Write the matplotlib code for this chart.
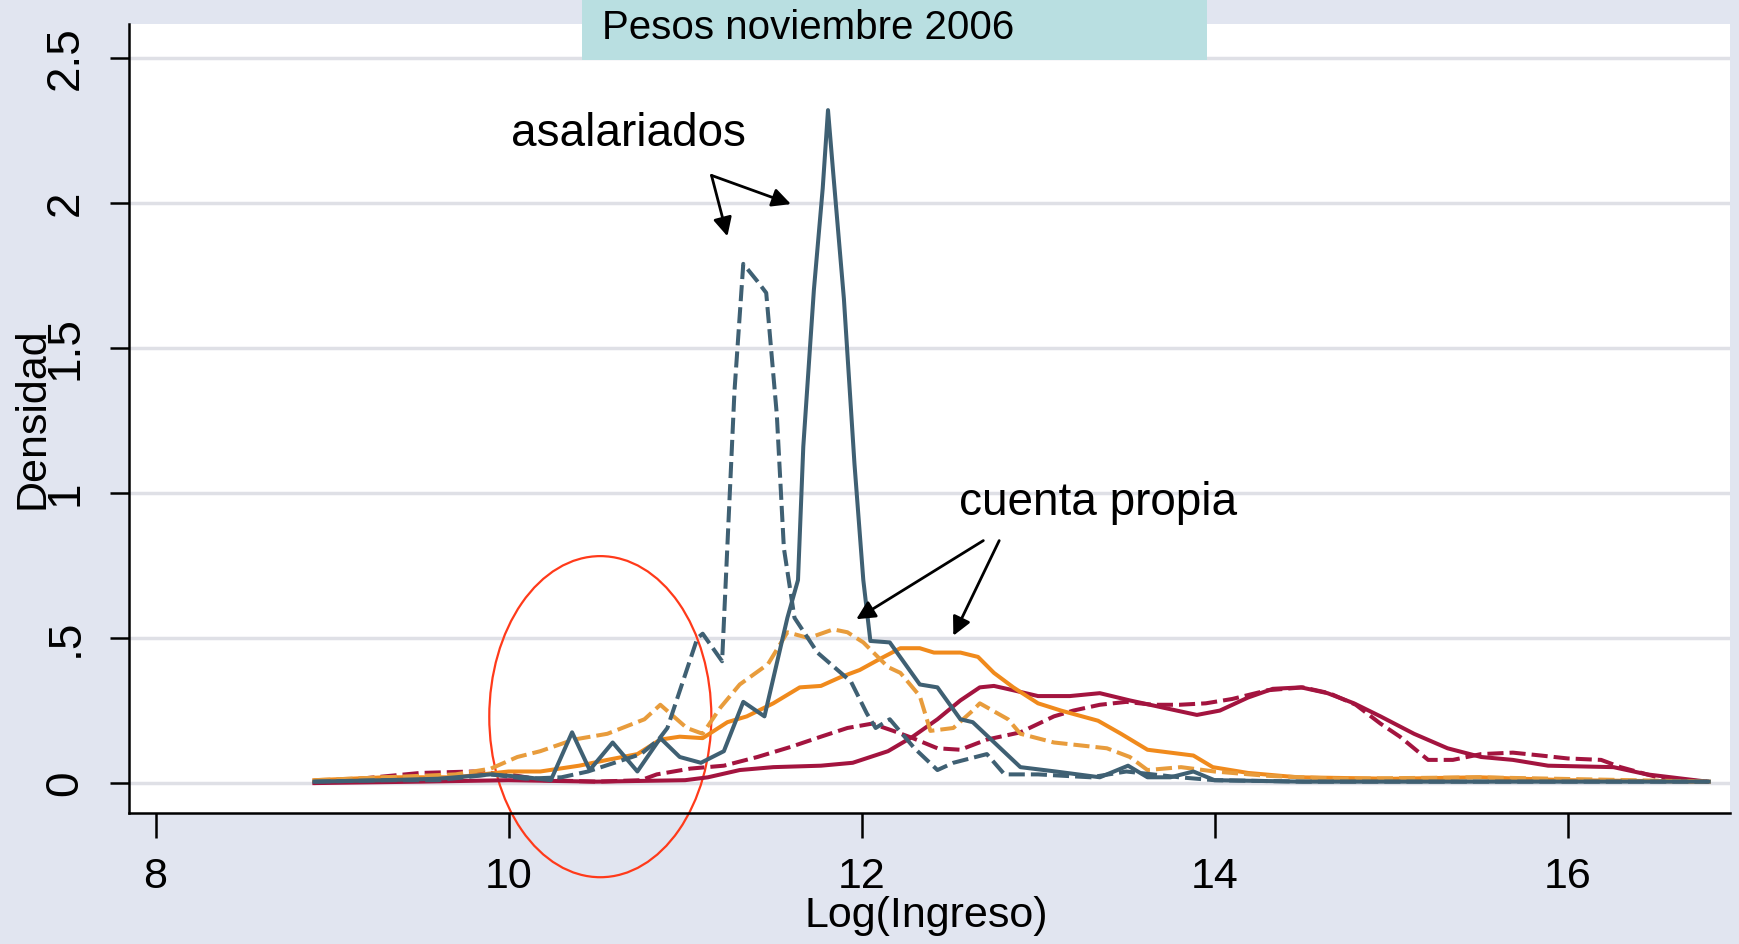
import matplotlib
matplotlib.use("Agg")
import matplotlib.pyplot as plt
from matplotlib.patches import Ellipse, Rectangle

plt.rcParams["font.family"] = ["Liberation Sans", "DejaVu Sans"]

# asalariados (solid / dashed)
asal_sol_x = [8.9, 9.3, 9.6, 9.9, 10.1, 10.24, 10.36, 10.46, 10.59, 10.73, 10.86, 10.97, 11.09, 11.22,
              11.33, 11.45, 11.58, 11.64, 11.67, 11.73, 11.78, 11.81, 11.84, 11.90, 11.96, 12.01, 12.05,
              12.16, 12.33, 12.43, 12.56, 12.63, 12.9, 13.1, 13.35, 13.51, 13.62, 13.75, 13.88, 14.0,
              14.5, 15.0, 15.5, 16.0, 16.8]
asal_sol_y = [0.005, 0.01, 0.015, 0.03, 0.02, 0.01, 0.175, 0.045, 0.14, 0.04, 0.155, 0.09, 0.07, 0.11,
              0.28, 0.23, 0.57, 0.70, 1.16, 1.70, 2.05, 2.32, 2.10, 1.67, 1.10, 0.70, 0.49,
              0.485, 0.34, 0.33, 0.22, 0.21, 0.055, 0.04, 0.02, 0.06, 0.02, 0.02, 0.04, 0.01,
              0.005, 0.005, 0.005, 0.005, 0.005]
asal_dash_x = [8.9, 9.3, 9.6, 9.9, 10.1, 10.3, 10.45, 10.6, 10.75, 10.85, 10.9, 11.07, 11.10, 11.21,
               11.28, 11.33, 11.41, 11.46, 11.52, 11.56, 11.62, 11.75, 11.94, 12.03, 12.08, 12.16,
               12.30, 12.43, 12.52, 12.71, 12.81, 13.0, 13.3, 13.5, 13.8, 14.0, 14.5, 15.0, 15.5,
               16.0, 16.8]
asal_dash_y = [0.005, 0.01, 0.01, 0.03, 0.015, 0.02, 0.04, 0.07, 0.10, 0.15, 0.19, 0.50, 0.515, 0.42,
               1.35, 1.79, 1.73, 1.69, 1.27, 0.81, 0.57, 0.45, 0.35, 0.24, 0.19, 0.22,
               0.12, 0.045, 0.07, 0.10, 0.03, 0.03, 0.02, 0.04, 0.02, 0.01, 0.005, 0.005, 0.005,
               0.005, 0.005]

# cuenta propia (solid / dashed)
cp_sol_x = [8.9, 9.3, 9.7, 10.0, 10.18, 10.4, 10.56, 10.73, 10.86, 10.97, 11.10, 11.24, 11.35, 11.50,
            11.65, 11.77, 11.88, 11.99, 12.11, 12.22, 12.33, 12.41, 12.56, 12.66, 12.75, 12.86, 13.0,
            13.13, 13.34, 13.47, 13.62, 13.88, 13.99, 14.19, 14.47, 15.0, 15.5, 16.0, 16.8]
cp_sol_y = [0.01, 0.02, 0.02, 0.04, 0.04, 0.06, 0.08, 0.10, 0.15, 0.16, 0.155, 0.21, 0.23, 0.275,
            0.33, 0.335, 0.365, 0.39, 0.43, 0.465, 0.465, 0.45, 0.45, 0.435, 0.38, 0.33, 0.275,
            0.25, 0.215, 0.17, 0.115, 0.095, 0.055, 0.035, 0.02, 0.015, 0.02, 0.01, 0.005]
cp_dash_x = [8.9, 9.3, 9.7, 9.9, 10.05, 10.18, 10.37, 10.56, 10.77, 10.86, 11.01, 11.10, 11.2, 11.31,
             11.47, 11.58, 11.7, 11.84, 11.92, 12.01, 12.15, 12.22, 12.33, 12.39, 12.52, 12.63, 12.67,
             12.83, 12.90, 13.09, 13.24, 13.39, 13.52, 13.62, 13.81, 14.0, 14.3, 14.7, 15.5, 16.8]
cp_dash_y = [0.01, 0.02, 0.03, 0.05, 0.09, 0.11, 0.15, 0.17, 0.22, 0.27, 0.19, 0.17, 0.26, 0.34,
             0.41, 0.52, 0.50, 0.53, 0.52, 0.485, 0.40, 0.38, 0.30, 0.18, 0.19, 0.25, 0.275,
             0.22, 0.17, 0.14, 0.13, 0.12, 0.09, 0.045, 0.055, 0.04, 0.025, 0.015, 0.02, 0.005]

# third group (solid / dashed)
pat_sol_x = [8.9, 9.5, 10.0, 10.5, 11.0, 11.13, 11.31, 11.5, 11.77, 11.95, 12.15, 12.29, 12.43, 12.56,
             12.67, 12.75, 12.86, 13.0, 13.18, 13.35, 13.52, 13.71, 13.9, 14.03, 14.19, 14.33, 14.49,
             14.64, 14.79, 14.94, 15.13, 15.32, 15.51, 15.69, 15.89, 16.26, 16.45, 16.79]
pat_sol_y = [0.0, 0.005, 0.01, 0.005, 0.01, 0.02, 0.045, 0.055, 0.06, 0.07, 0.11, 0.16, 0.22, 0.285,
             0.33, 0.335, 0.32, 0.30, 0.30, 0.31, 0.285, 0.26, 0.235, 0.25, 0.295, 0.325, 0.33,
             0.31, 0.275, 0.23, 0.17, 0.12, 0.09, 0.08, 0.06, 0.055, 0.03, 0.005]
pat_dash_x = [8.9, 9.5, 9.8, 10.0, 10.2, 10.5, 10.75, 10.84, 11.03, 11.22, 11.41, 11.6, 11.77, 11.92,
              12.06, 12.18, 12.29, 12.43, 12.56, 12.71, 12.9, 13.09, 13.2, 13.35, 13.5, 13.65, 13.8,
              13.95, 14.1, 14.3, 14.5, 14.65, 14.8, 14.94, 15.05, 15.21, 15.35, 15.51, 15.69, 15.85,
              16.0, 16.19, 16.3, 16.54, 16.79]
pat_dash_y = [0.0, 0.035, 0.04, 0.03, 0.01, 0.005, 0.01, 0.03, 0.05, 0.06, 0.09, 0.125, 0.16, 0.19,
              0.205, 0.18, 0.155, 0.12, 0.115, 0.15, 0.175, 0.23, 0.25, 0.27, 0.28, 0.27, 0.27,
              0.275, 0.29, 0.32, 0.33, 0.31, 0.27, 0.205, 0.16, 0.08, 0.08, 0.10, 0.105, 0.095,
              0.085, 0.08, 0.055, 0.015, 0.005]

x_ticks = [8, 10, 12, 14, 16]
y_ticks = [0, 0.5, 1, 1.5, 2, 2.5]
y_tick_labels = ["0", ".5", "1", "1.5", "2", "2.5"]

slate = "#3f6073"
orange = "#f08a1c"
orange_light = "#e89c3c"
crimson = "#a3143f"
dash = (4, 1.5)
lw = 2.9

fig = plt.figure(figsize=(17.39, 9.44), dpi=100, facecolor="#e1e5f0")
ax = fig.add_axes([0.0742, 0.1388, 0.9206, 0.8358])
ax.set_facecolor("white")

ax.plot(pat_sol_x, pat_sol_y, color=crimson, lw=lw)
ax.plot(pat_dash_x, pat_dash_y, color=crimson, lw=lw, dashes=dash)
ax.plot(cp_sol_x, cp_sol_y, color=orange, lw=lw)
ax.plot(cp_dash_x, cp_dash_y, color=orange_light, lw=lw, dashes=dash)
ax.plot(asal_sol_x, asal_sol_y, color=slate, lw=lw)
ax.plot(asal_dash_x, asal_dash_y, color=slate, lw=lw, dashes=dash)

ax.set_xlim(7.85, 16.92)
ax.set_ylim(-0.103, 2.617)
ax.set_xticks(x_ticks)
ax.set_yticks(y_ticks)
ax.set_yticklabels(y_tick_labels)
ax.tick_params(axis="x", labelsize=31, length=18, width=1.8, pad=14)
ax.tick_params(axis="y", labelsize=33, length=14, width=1.8, pad=16, labelrotation=90)
for lab in ax.get_yticklabels():
    lab.set_va("center")
ax.yaxis.grid(True, color="#dfe0e6", lw=2.5)
ax.set_axisbelow(True)
ax.spines["top"].set_visible(False)
ax.spines["right"].set_visible(False)
ax.spines["left"].set_linewidth(1.8)
ax.spines["bottom"].set_linewidth(1.8)

ax.set_xlabel("Log(Ingreso)", fontsize=31, va="center")
ax.xaxis.set_label_coords(0.498, -0.131)
ax.set_ylabel("Densidad", fontsize=31, va="center")
ax.yaxis.set_label_coords(-0.060, 0.50)

# annotations
arrow = dict(arrowstyle="-|>", color="black", lw=2, mutation_scale=28, shrinkA=0, shrinkB=0)
ax.text(10.68, 2.237, "asalariados", fontsize=33, ha="center", va="center")
ax.annotate("", xy=(11.24, 1.885), xytext=(11.15, 2.095), arrowprops=arrow)
ax.annotate("", xy=(11.60, 1.996), xytext=(11.15, 2.095), arrowprops=arrow)
ax.text(13.34, 0.967, "cuenta propia", fontsize=33, ha="center", va="center")
ax.annotate("", xy=(11.97, 0.565), xytext=(12.69, 0.836), arrowprops=arrow)
ax.annotate("", xy=(12.52, 0.508), xytext=(12.78, 0.836), arrowprops=arrow)

ax.add_patch(Ellipse((10.52, 0.229), 1.258, 1.107, fill=False, edgecolor="#ff3a1a", lw=1.6, clip_on=False))

# title box
fig.patches.append(Rectangle((0.3347, 0.9364), 0.3594, 0.0636, transform=fig.transFigure,
                             facecolor="#b9dfe1", edgecolor="none", zorder=5))
fig.text(0.3462, 0.970, "Pesos noviembre 2006", fontsize=29, ha="left", va="center", zorder=6)

fig.savefig("out.png", dpi=100, facecolor=fig.get_facecolor())
